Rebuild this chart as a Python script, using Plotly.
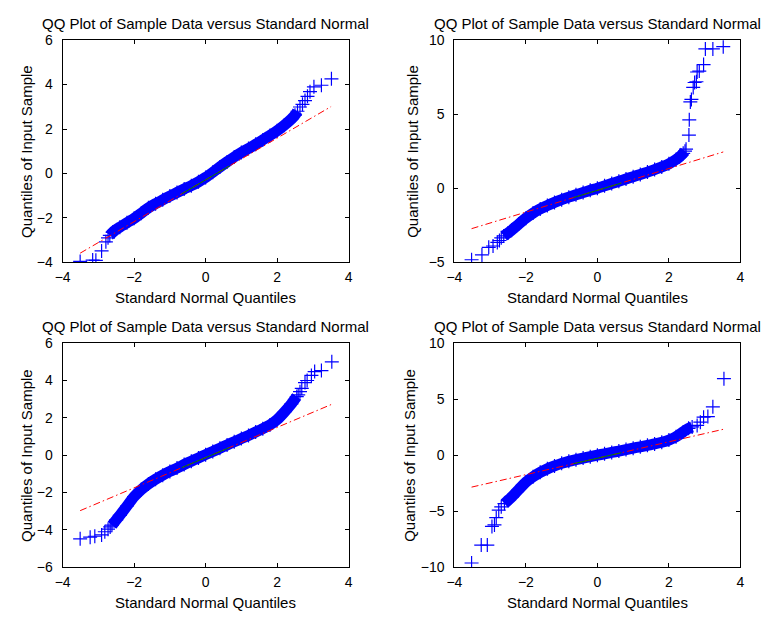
import plotly.graph_objects as go

# ---- Panel 1: sample quantiles vs standard normal quantiles ----
b1_x = [-2.68, -2.6, -2.4, -2.2, -2.0, -1.8, -1.6, -1.4, -1.2, -1.0, -0.8, -0.6, -0.4, -0.2,
        0.0, 0.2, 0.4, 0.6, 0.8, 1.0, 1.2, 1.4, 1.6, 1.8, 2.0, 2.2, 2.4, 2.5, 2.57]
b1_y = [-2.79, -2.65, -2.42, -2.22, -2.02, -1.79, -1.55, -1.36, -1.19, -1.02, -0.86, -0.70, -0.55, -0.38,
        -0.18, 0.05, 0.29, 0.52, 0.74, 0.94, 1.12, 1.31, 1.51, 1.71, 1.92, 2.17, 2.45, 2.62, 2.80]
s1_x = [-3.51, -3.16, -3.07, -2.91, -2.79, -2.73, 2.64, 2.71, 2.78, 2.85, 2.92, 3.03, 3.24, 3.52]
s1_y = [-3.96, -3.90, -3.91, -3.49, -3.08, -2.90, 2.99, 3.11, 3.28, 3.47, 3.68, 3.90, 3.97, 4.26]
f1_x = [-3.51, 3.51]
f1_y = [-3.59, 3.01]
g1_x = [-0.67, 0.67]
g1_y = [-0.92, 0.34]

# ---- Panel 2 ----
b2_x = [-2.62, -2.5, -2.4, -2.2, -2.0, -1.8, -1.6, -1.4, -1.2, -1.0, -0.8, -0.6, -0.4, -0.2,
        0.0, 0.2, 0.4, 0.6, 0.8, 1.0, 1.2, 1.4, 1.6, 1.8, 2.0, 2.2, 2.3, 2.4, 2.45]
b2_y = [-3.22, -3.02, -2.84, -2.42, -2.02, -1.68, -1.40, -1.17, -0.96, -0.77, -0.60, -0.44, -0.29, -0.14,
        0.00, 0.16, 0.32, 0.47, 0.63, 0.78, 0.93, 1.09, 1.26, 1.44, 1.65, 1.94, 2.12, 2.36, 2.50]
s2_x = [-3.52, -3.23, -3.04, -2.92, -2.80, -2.74, -2.69, 2.48, 2.56, 2.57, 2.60, 2.63, 2.68, 2.72,
        2.77, 2.79, 2.85, 2.97, 3.02, 3.23, 3.52]
s2_y = [-4.83, -4.50, -3.99, -3.90, -3.66, -3.53, -3.35, 2.64, 3.59, 4.62, 5.83, 6.00, 6.81, 7.14,
        7.19, 7.85, 7.91, 8.35, 9.41, 9.41, 9.56]
f2_x = [-3.52, 3.52]
f2_y = [-2.73, 2.45]
g2_x = [-0.67, 0.67]
g2_y = [-0.63, 0.35]

# ---- Panel 3 ----
b3_x = [-2.62, -2.5, -2.4, -2.2, -2.0, -1.8, -1.6, -1.4, -1.2, -1.0, -0.8, -0.6, -0.4, -0.2,
        0.0, 0.2, 0.4, 0.6, 0.8, 1.0, 1.2, 1.4, 1.6, 1.8, 2.0, 2.2, 2.4, 2.55]
b3_y = [-3.75, -3.46, -3.22, -2.72, -2.22, -1.84, -1.54, -1.29, -1.07, -0.87, -0.69, -0.50, -0.32, -0.15,
        0.03, 0.20, 0.37, 0.55, 0.72, 0.89, 1.06, 1.24, 1.42, 1.62, 1.90, 2.30, 2.75, 3.14]
s3_x = [-3.51, -3.23, -3.10, -2.91, -2.82, -2.73, -2.67, 2.59, 2.64, 2.69, 2.78, 2.84, 2.96, 3.05, 3.24, 3.53]
s3_y = [-4.48, -4.39, -4.34, -4.27, -4.10, -3.96, -3.84, 3.23, 3.40, 3.58, 3.89, 4.00, 4.27, 4.48, 4.53, 5.00]
f3_x = [-3.51, 3.51]
f3_y = [-2.97, 2.71]
g3_x = [-0.67, 0.67]
g3_y = [-0.67, 0.41]

# ---- Panel 4 ----
b4_x = [-2.6, -2.5, -2.4, -2.2, -2.0, -1.8, -1.6, -1.4, -1.2, -1.0, -0.8, -0.6, -0.4, -0.2,
        0.0, 0.2, 0.4, 0.6, 0.8, 1.0, 1.2, 1.4, 1.6, 1.8, 2.0, 2.2, 2.4, 2.55, 2.65]
b4_y = [-4.32, -4.03, -3.74, -3.06, -2.40, -1.92, -1.53, -1.22, -0.96, -0.73, -0.55, -0.40, -0.26, -0.13,
        0.00, 0.12, 0.25, 0.37, 0.50, 0.63, 0.75, 0.88, 1.00, 1.15, 1.35, 1.64, 2.08, 2.40, 2.52]
s4_x = [-3.52, -3.25, -3.08, -2.95, -2.88, -2.83, -2.76, -2.69, 2.79, 2.88, 2.97, 3.09, 3.23, 3.54]
s4_y = [-9.62, -8.02, -8.02, -6.36, -6.22, -5.58, -4.91, -4.61, 2.66, 2.95, 3.39, 3.45, 4.32, 6.83]
f4_x = [-3.52, 3.52]
f4_y = [-2.85, 2.31]
g4_x = [-0.67, 0.67]
g4_y = [-0.76, 0.22]

x_ticks = [-4, -2, 0, 2, 4]
y_ticks = [[-4, -2, 0, 2, 4, 6], [-5, 0, 5, 10], [-6, -4, -2, 0, 2, 4, 6], [-10, -5, 0, 5, 10]]
y_ranges = [[-4, 6], [-5, 10], [-6, 6], [-10, 10]]

TITLE = "QQ Plot of Sample Data versus Standard Normal"
XLABEL = "Standard Normal Quantiles"
YLABEL = "Quantiles of Input Sample"

W, H = 769, 622
FONT = "Liberation Sans, Arial, Helvetica, sans-serif"

# plot-area boxes in pixels: (left, right, top, bottom)
boxes = [(55.5, 346.0, 33.0, 261.0), (453.5, 744.0, 33.0, 261.0),
         (55.5, 346.0, 344.0, 574.0), (453.5, 744.0, 344.0, 574.0)]
ylabel_px = [18, 411, 18, 408]

panels = [(b1_x, b1_y, s1_x, s1_y, f1_x, f1_y, g1_x, g1_y),
          (b2_x, b2_y, s2_x, s2_y, f2_x, f2_y, g2_x, g2_y),
          (b3_x, b3_y, s3_x, s3_y, f3_x, f3_y, g3_x, g3_y),
          (b4_x, b4_y, s4_x, s4_y, f4_x, f4_y, g4_x, g4_y)]

fig = go.Figure()
marker = dict(symbol="cross-thin-open", size=10, color="#0000ff",
              line=dict(color="#0000ff", width=1.2))

annotations = []
for i, (bx, by, sx, sy, fx, fy, gx, gy) in enumerate(panels):
    k = "" if i == 0 else str(i + 1)
    xa, ya = "x" + k, "y" + k
    # dense body of the sample: overlapping crosses form a solid band
    fig.add_trace(go.Scatter(x=bx, y=by, xaxis=xa, yaxis=ya, mode="lines+markers",
                             line=dict(color="#0000ff", width=11, shape="spline", smoothing=0.6),
                             marker=marker, showlegend=False, hoverinfo="skip"))
    # isolated tail quantiles
    fig.add_trace(go.Scatter(x=sx, y=sy, xaxis=xa, yaxis=ya, mode="markers",
                             marker=marker, showlegend=False))
    # reference line through the quartiles, extended over the data range
    fig.add_trace(go.Scatter(x=fx, y=fy, xaxis=xa, yaxis=ya, mode="lines",
                             line=dict(color="#ff0000", width=1, dash="7px,3px,1.5px,3px"),
                             showlegend=False))
    fig.add_trace(go.Scatter(x=gx, y=gy, xaxis=xa, yaxis=ya, mode="lines",
                             line=dict(color="#008000", width=1), showlegend=False))

    l, r, t, b = boxes[i]
    common = dict(showline=True, linecolor="black", linewidth=1, mirror="ticks",
                  ticks="inside", ticklen=4, tickcolor="black", showgrid=False,
                  zeroline=False, tickfont=dict(family=FONT, size=14, color="black"))
    fig.update_layout({
        "xaxis" + k: dict(domain=[l / W, r / W], anchor=ya, range=[-4, 4],
                          tickvals=x_ticks, ticklabelstandoff=2, **common),
        "yaxis" + k: dict(domain=[1 - b / H, 1 - t / H], anchor=xa, range=y_ranges[i],
                          tickvals=y_ticks[i], ticklabelstandoff=6, **common),
    })
    cx = (l + r) / 2
    annotations.append(dict(text=TITLE, x=cx / W, y=1 - (t - 17) / H, xref="paper", yref="paper",
                            xanchor="center", yanchor="middle", showarrow=False,
                            font=dict(family=FONT, size=15, color="black")))
    annotations.append(dict(text=XLABEL, x=cx / W, y=1 - (b + 36) / H, xref="paper", yref="paper",
                            xanchor="center", yanchor="middle", showarrow=False,
                            font=dict(family=FONT, size=15, color="black")))
    annotations.append(dict(text=YLABEL, x=ylabel_px[i] / W, y=1 - ((t + b) / 2) / H,
                            xref="paper", yref="paper", xanchor="center", yanchor="middle",
                            textangle=-90, showarrow=False,
                            font=dict(family=FONT, size=15, color="black")))

fig.update_layout(width=W, height=H, margin=dict(l=0, r=0, t=0, b=0),
                  paper_bgcolor="white", plot_bgcolor="white",
                  annotations=annotations, showlegend=False)

fig.write_html("out.html")
